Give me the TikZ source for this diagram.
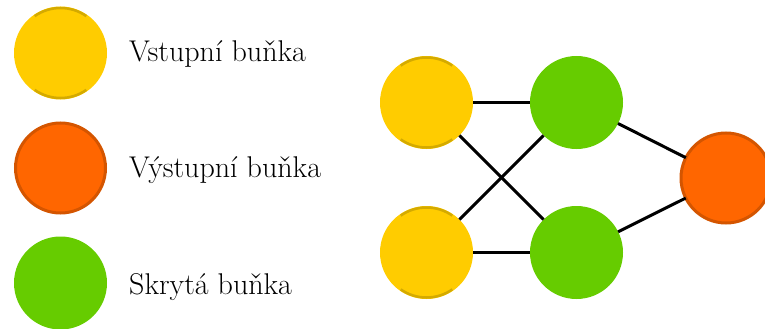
\documentclass[tikz,border=0pt]{standalone}
\definecolor{cyellow}{HTML}{FFCC00}
\definecolor{cyellowd}{HTML}{D4AA00}
\definecolor{corange}{HTML}{FF6600}
\definecolor{corange2}{HTML}{D45500}
\definecolor{cgreen}{HTML}{66CC00}
\tikzset{
  cell/.style={circle, minimum size=93pt, inner sep=0pt, outer sep=0pt},
  incell/.style={cell, fill=cyellow},
  outcell/.style={cell, fill=corange, draw=corange2, line width=3pt, minimum size=90pt},
  hidcell/.style={cell, fill=cgreen},
  yarc/.style={draw=cyellowd, line width=2.5pt},
  conn/.style={draw=black, line width=3pt},
  lbl/.style={anchor=west, inner sep=0pt, font=\fontsize{30}{36}\selectfont}
}
\newcommand{\yarcs}[1]{%
  \draw[yarc] (#1.center) ++(55:45) arc[start angle=55, end angle=125, radius=45];
  \draw[yarc] (#1.center) ++(-55:45) arc[start angle=-55, end angle=-125, radius=45];
}
\begin{document}
\begin{tikzpicture}[x=1pt,y=-1pt]
\useasboundingbox (0,0) rectangle (765,329);
\begin{scope}
\clip (0,0) rectangle (765,329);
% legend
\node[incell] (li) at (60.5,53) {};
\yarcs{li}
\node[outcell] (lo) at (60.5,168) {};
\node[hidcell] (lh) at (60.5,283) {};
\node[lbl] (ti) at (129,54) {Vstupní buňka};
\node[lbl] (to) at (129,170) {Výstupní buňka};
\node[lbl] (th) at (129,287) {Skrytá buňka};
% network
\node[incell] (y1) at (426.5,102.5) {};
\node[incell] (y2) at (426.5,252.5) {};
\node[hidcell] (g1) at (576.5,102.5) {};
\node[hidcell] (g2) at (576.5,252.5) {};
\node[outcell] (o) at (726,178) {};
\draw[conn] (y1) -- (g1);
\draw[conn] (y1) -- (g2);
\draw[conn] (y2) -- (g1);
\draw[conn] (y2) -- (g2);
\draw[conn] (g1) -- (o);
\draw[conn] (g2) -- (o);
\yarcs{y1}
\yarcs{y2}
\end{scope}
\end{tikzpicture}
\end{document}
